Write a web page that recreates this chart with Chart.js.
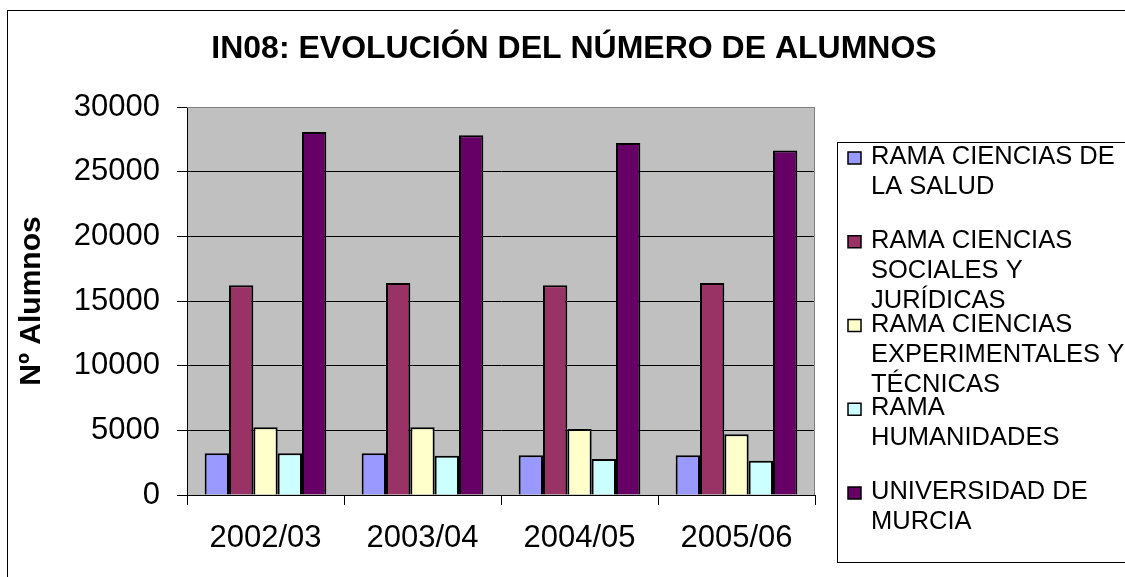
<!DOCTYPE html>
<html>
<head>
<meta charset="utf-8">
<script src="https://cdn.jsdelivr.net/npm/chart.js@4.4.0/dist/chart.umd.min.js"></script>
<style>
html,body{margin:0;padding:0;background:#fff;}
</style>
</head>
<body>
<canvas id="canvas" width="1125" height="577"></canvas>
<script>
// datos
var cursos = ['2002/03', '2003/04', '2004/05', '2005/06'];
var ramaSalud = [3220, 3220, 3070, 3070];
var ramaSociales = [16220, 16400, 16220, 16400];
var ramaExperimentales = [5230, 5230, 5100, 4690];
var ramaHumanidades = [3220, 3040, 2780, 2650];
var universidad = [28070, 27810, 27220, 26630];
var nombres = [
	['RAMA CIENCIAS DE', 'LA SALUD'],
	['RAMA CIENCIAS', 'SOCIALES Y', 'JURÍDICAS'],
	['RAMA CIENCIAS', 'EXPERIMENTALES Y', 'TÉCNICAS'],
	['RAMA', 'HUMANIDADES'],
	['UNIVERSIDAD DE', 'MURCIA']
];
var titulo = 'IN08: EVOLUCIÓN DEL NÚMERO DE ALUMNOS';
var tituloEje = 'Nº Alumnos';

var colores = ['#9999FF', '#993366', '#FFFFCC', '#CCFFFF', '#660066'];
var series = [ramaSalud, ramaSociales, ramaExperimentales, ramaHumanidades, universidad];
var fuente = '"Liberation Sans", Arial, sans-serif';

var datasets = [];
for (var i = 0; i < series.length; i++) {
	datasets.push({
		label: nombres[i].join(' '),
		data: series[i],
		backgroundColor: colores[i],
		borderColor: '#000',
		borderWidth: 2,
		barPercentage: 1,
		categoryPercentage: 0.775
	});
}

// fondo gris del area, marco, titulo y leyenda
var decorado = {
	id: 'decorado',
	beforeDraw: function(chart) {
		var ctx = chart.ctx, a = chart.chartArea;
		ctx.save();
		ctx.fillStyle = '#fff';
		ctx.fillRect(0, 0, chart.width, chart.height);
		ctx.fillStyle = '#C0C0C0';
		ctx.fillRect(a.left, a.top, a.right - a.left, a.bottom - a.top);
		ctx.restore();
	},
	afterDraw: function(chart) {
		var ctx = chart.ctx, a = chart.chartArea;
		ctx.save();
		// marco exterior
		ctx.strokeStyle = '#000';
		ctx.lineWidth = 1;
		ctx.strokeRect(7.5, 10.5, 1130, 600);
		// borde del area de trazado
		ctx.strokeStyle = '#808080';
		ctx.beginPath();
		ctx.moveTo(a.left, a.top + 0.5);
		ctx.lineTo(a.right - 0.5, a.top + 0.5);
		ctx.lineTo(a.right - 0.5, a.bottom);
		ctx.stroke();
		// titulo
		ctx.fillStyle = '#000';
		ctx.font = 'bold 32px ' + fuente;
		ctx.textAlign = 'center';
		ctx.textBaseline = 'middle';
		ctx.fillText(titulo, 574, 49);
		// leyenda
		ctx.strokeStyle = '#000';
		ctx.strokeRect(837.5, 142.5, 300, 420);
		ctx.font = '25.5px ' + fuente;
		ctx.textAlign = 'left';
		var ds = chart.data.datasets;
		for (var i = 0; i < ds.length; i++) {
			var y0 = 157 + i * 83.75;
			ctx.fillStyle = ds[i].backgroundColor;
			ctx.fillRect(848, y0 - 5, 13, 12);
			ctx.strokeStyle = '#000';
			ctx.lineWidth = 1.5;
			ctx.strokeRect(848, y0 - 5, 13, 12);
			ctx.fillStyle = '#000';
			for (var j = 0; j < nombres[i].length; j++) {
				ctx.fillText(nombres[i][j], 871, y0 + j * 30);
			}
		}
		ctx.restore();
	}
};

var ctx = document.getElementById('canvas').getContext('2d');
window.myBar = new Chart(ctx, {
	type: 'bar',
	data: {labels: cursos, datasets: datasets},
	options: {
		responsive: false,
		animation: false,
		layout: {padding: {left: 14, right: 310, top: 107, bottom: 0}},
		plugins: {
			legend: {display: false},
			title: {display: false},
			tooltip: {enabled: false}
		},
		scales: {
			x: {
				grid: {drawOnChartArea: false, drawTicks: true, tickLength: 10, tickColor: '#000', offset: true},
				border: {color: '#000', width: 1},
				ticks: {color: '#000', padding: 15, font: {family: fuente, size: 31}, maxRotation: 0},
				afterFit: function(s) { s.height = 82; }
			},
			y: {
				min: 0,
				max: 30000,
				ticks: {
					stepSize: 5000,
					color: '#000',
					padding: 17,
					font: {family: fuente, size: 31},
					callback: function(v) { return String(v); }
				},
				grid: {
					color: function(c) { return c.tick && c.tick.value === 30000 ? '#808080' : '#000'; },
					tickColor: '#000',
					tickLength: 10,
					lineWidth: 1
				},
				border: {color: '#000', width: 1},
				title: {
					display: true,
					text: tituloEje,
					color: '#000',
					padding: {top: 0, bottom: 0},
					font: {family: fuente, size: 30, weight: 'bold'}
				},
				afterFit: function(s) { s.width = 173; }
			}
		}
	},
	plugins: [decorado]
});
</script>
</body>
</html>
